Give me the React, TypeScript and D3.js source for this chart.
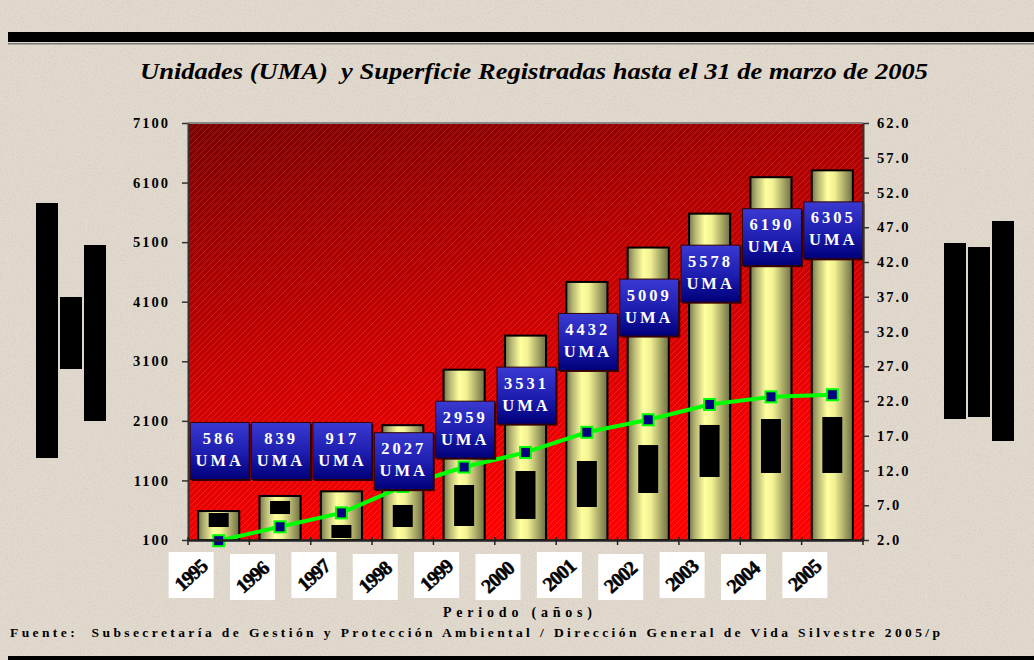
import React, { useEffect, useRef } from 'react';
import * as d3 from 'd3';

const years = ['1995', '1996', '1997', '1998', '1999', '2000', '2001', '2002', '2003', '2004', '2005'];
// registered UMA units (bars, left axis)
const umaCount = [586, 839, 917, 2027, 2959, 3531, 4432, 5009, 5578, 6190, 6305];
// registered surface (line, right axis)
const surface = [1.9, 3.9, 5.9, 9.7, 12.5, 14.6, 17.5, 19.3, 21.5, 22.6, 22.9];
// black blocks inside each bar (left axis units)
const blockHigh = [553, 755, 352, 688, 1023, 1258, 1426, 1694, 2031, 2131, 2165];
const blockLow = [318, 536, 134, 318, 335, 453, 654, 889, 1158, 1225, 1225];
const leftTicks = [100, 1100, 2100, 3100, 4100, 5100, 6100, 7100];
const rightTicks = [2, 7, 12, 17, 22, 27, 32, 37, 42, 47, 52, 57, 62];

const title = 'Unidades (UMA)  y Superficie Registradas hasta el 31 de marzo de 2005';
const xTitle = 'Periodo (años)';
const source = 'Fuente:  Subsecretaría de Gestión y Protección Ambiental / Dirección General de Vida Silvestre 2005/p';

const serif = "'Liberation Serif', 'Times New Roman', serif";

const UmaChart: React.FC = () => {
  const chartRef = useRef<SVGSVGElement>(null);

  useEffect(() => {
    const svg = d3.select(chartRef.current);
    svg.selectAll('*').remove();

    const width = 1034;
    const height = 660;
    const plot = { left: 188, right: 863, top: 123, bottom: 540 };

    const rows = years.map((year, i) => ({
      year, uma: umaCount[i], sup: surface[i], hi: blockHigh[i], lo: blockLow[i],
    }));

    const x = d3.scaleBand().domain(years).range([plot.left, plot.right]);
    const yL = d3.scaleLinear().domain([100, 7100]).range([plot.bottom, plot.top]);
    const yR = d3.scaleLinear().domain([2, 62]).range([plot.bottom, plot.top]);
    const cx = (d: { year: string }) => (x(d.year) ?? 0) + x.bandwidth() / 2;
    const barW = x.bandwidth() * 0.67;

    // label sits on a common row unless that would hide the bar top, then it drops just under it
    const labelY = (d: { uma: number }) => {
      const top = yL(d.uma);
      const cy = Math.min(451, top + 60);
      return top > cy - 28.5 && top < cy + 28.5 ? top + 36 : cy;
    };

    const defs = svg.append('defs');

    const noise = defs.append('filter').attr('id', 'paper');
    noise.append('feTurbulence').attr('type', 'fractalNoise')
      .attr('baseFrequency', 0.6).attr('numOctaves', 2).attr('seed', 3);
    noise.append('feColorMatrix').attr('type', 'matrix')
      .attr('values', '0 0 0 0 0.6  0 0 0 0 0.55  0 0 0 0 0.5  0 0 0 -2.4 1.3');

    const redGrad = defs.append('linearGradient').attr('id', 'redBg')
      .attr('x1', 0).attr('y1', 0).attr('x2', 0.35).attr('y2', 1);
    redGrad.append('stop').attr('offset', 0).attr('stop-color', '#7a0000');
    redGrad.append('stop').attr('offset', 0.55).attr('stop-color', '#c80000');
    redGrad.append('stop').attr('offset', 1).attr('stop-color', '#ff0000');

    const hatch = defs.append('pattern').attr('id', 'hatch')
      .attr('patternUnits', 'userSpaceOnUse').attr('width', 6).attr('height', 6);
    hatch.append('path').attr('d', 'M-1,1 l2,-2 M0,6 l6,-6 M5,7 l2,-2')
      .attr('stroke', '#ffb0b0').attr('stroke-opacity', 0.28).attr('stroke-width', 0.7);

    const barGrad = defs.append('linearGradient').attr('id', 'barGrad')
      .attr('x1', 0).attr('y1', 0).attr('x2', 1).attr('y2', 0);
    [[0, '#77774a'], [0.15, '#b5b574'], [0.38, '#ffff9e'], [0.55, '#f2f294'], [0.8, '#a8a866'], [1, '#6e6e44']]
      .forEach(([o, c]) => barGrad.append('stop').attr('offset', o).attr('stop-color', c));

    const boxGrad = defs.append('linearGradient').attr('id', 'boxGrad')
      .attr('x1', 0).attr('y1', 0).attr('x2', 0).attr('y2', 1);
    boxGrad.append('stop').attr('offset', 0).attr('stop-color', '#3a3ad2');
    boxGrad.append('stop').attr('offset', 0.55).attr('stop-color', '#1c1cae');
    boxGrad.append('stop').attr('offset', 1).attr('stop-color', '#00007a');

    // page
    svg.append('rect').attr('width', width).attr('height', height).attr('fill', '#e1d9cd');
    svg.append('rect').attr('width', width).attr('height', height).attr('filter', 'url(#paper)').attr('opacity', 0.5);

    svg.append('rect').attr('x', 8).attr('y', 32).attr('width', width - 8).attr('height', 10).attr('fill', '#000');
    svg.append('rect').attr('x', 8).attr('y', 43).attr('width', width - 8).attr('height', 1.5).attr('fill', '#777');
    svg.append('rect').attr('x', 8).attr('y', 656).attr('width', width - 8).attr('height', 4).attr('fill', '#000');

    // side blocks
    const sideBlocks = [
      [36, 203, 22, 255], [60, 297, 22, 72], [84, 245, 22, 176],
      [944, 243, 22, 176], [968, 247, 22, 170], [992, 221, 22, 220],
    ];
    svg.append('g').selectAll('rect').data(sideBlocks).enter().append('rect')
      .attr('x', d => d[0]).attr('y', d => d[1]).attr('width', d => d[2]).attr('height', d => d[3])
      .attr('fill', '#000');

    // title
    svg.append('text').attr('x', 140).attr('y', 79).attr('textLength', 788).attr('lengthAdjust', 'spacingAndGlyphs')
      .style('white-space', 'pre')
      .attr('font-family', serif).attr('font-style', 'italic').attr('font-weight', 'bold')
      .attr('font-size', 24).attr('fill', '#000').text(title);

    // plot background
    svg.append('rect').attr('x', plot.left).attr('y', plot.top)
      .attr('width', plot.right - plot.left).attr('height', plot.bottom - plot.top).attr('fill', 'url(#redBg)');
    svg.append('rect').attr('x', plot.left).attr('y', plot.top)
      .attr('width', plot.right - plot.left).attr('height', plot.bottom - plot.top).attr('fill', 'url(#hatch)');
    svg.append('line').attr('x1', plot.left).attr('x2', plot.right).attr('y1', plot.top).attr('y2', plot.top)
      .attr('stroke', '#888').attr('stroke-width', 2);

    // bars
    svg.append('g').selectAll('rect').data(rows).enter().append('rect')
      .attr('x', d => cx(d) - barW / 2).attr('y', d => yL(d.uma))
      .attr('width', barW).attr('height', d => plot.bottom - yL(d.uma))
      .attr('fill', 'url(#barGrad)').attr('stroke', '#000').attr('stroke-width', 2);

    svg.append('g').selectAll('rect').data(rows).enter().append('rect')
      .attr('x', d => cx(d) - 10).attr('y', d => yL(d.hi))
      .attr('width', 20).attr('height', d => yL(d.lo) - yL(d.hi)).attr('fill', '#000');

    // surface line
    const line = d3.line<typeof rows[number]>().x(d => cx(d)).y(d => yR(d.sup));
    svg.append('path').datum(rows).attr('d', line).attr('fill', 'none')
      .attr('stroke', '#00ff00').attr('stroke-width', 4);
    svg.append('g').selectAll('rect').data(rows).enter().append('rect')
      .attr('x', d => cx(d) - 5.5).attr('y', d => yR(d.sup) - 5.5)
      .attr('width', 11).attr('height', 11)
      .attr('fill', '#000080').attr('stroke', '#00ff00').attr('stroke-width', 2);

    // UMA label boxes
    const boxes = svg.append('g').selectAll('g').data(rows).enter().append('g')
      .attr('transform', d => `translate(${cx(d) + 1},${labelY(d)})`);
    boxes.append('rect').attr('x', -28).attr('y', -27).attr('width', 59).attr('height', 57)
      .attr('fill', '#3a0000');
    boxes.append('rect').attr('x', -29.5).attr('y', -28.5).attr('width', 59).attr('height', 57)
      .attr('fill', 'url(#boxGrad)').attr('stroke', '#300').attr('stroke-width', 1);
    boxes.append('text').attr('y', -7).attr('text-anchor', 'middle')
      .attr('font-family', serif).attr('font-weight', 'bold').attr('font-size', 16.5)
      .attr('letter-spacing', 3).attr('fill', '#fff').text(d => String(d.uma));
    boxes.append('text').attr('y', 15).attr('text-anchor', 'middle')
      .attr('font-family', serif).attr('font-weight', 'bold').attr('font-size', 16.5)
      .attr('letter-spacing', 3).attr('fill', '#fff').text('UMA');

    // axes
    const axisFont = (g: d3.Selection<SVGGElement, unknown, null, undefined>) => {
      g.select('.domain').attr('stroke', '#333').attr('stroke-width', 2);
      g.selectAll('.tick line').attr('stroke', '#333').attr('stroke-width', 1.5);
      g.selectAll('.tick text').attr('font-family', serif).attr('font-weight', 'bold')
        .attr('font-size', 14.5).attr('letter-spacing', 2).attr('fill', '#000');
    };

    svg.append('g').attr('transform', `translate(${plot.left},0)`)
      .call(d3.axisLeft(yL).tickValues(leftTicks).tickSize(6).tickSizeOuter(0).tickPadding(12)
        .tickFormat(d3.format('d')))
      .call(axisFont);

    svg.append('g').attr('transform', `translate(${plot.right},0)`)
      .call(d3.axisRight(yR).tickValues(rightTicks).tickSize(6).tickSizeOuter(0).tickPadding(8)
        .tickFormat(d3.format('.1f')))
      .call(axisFont);

    const xAxis = svg.append('g').attr('transform', `translate(0,${plot.bottom})`)
      .call(d3.axisBottom(x).tickValues([]).tickSizeOuter(0));
    xAxis.select('.domain').attr('stroke', '#222').attr('stroke-width', 2.5);
    xAxis.selectAll('line.sep').data(d3.range(years.length + 1)).enter().append('line')
      .attr('class', 'sep')
      .attr('x1', i => plot.left + i * x.step()).attr('x2', i => plot.left + i * x.step())
      .attr('y1', -3).attr('y2', 5).attr('stroke', '#222').attr('stroke-width', 1.5);

    // year tags
    const tags = svg.append('g').selectAll('g').data(rows).enter().append('g')
      .attr('transform', (d, i) => `translate(${cx(d) - 28},${575 + (i % 2) * 2})`);
    tags.append('rect').attr('x', -22).attr('y', -23).attr('width', 45).attr('height', 46).attr('fill', '#fff');
    tags.append('text').attr('transform', 'rotate(-42)').attr('text-anchor', 'middle')
      .attr('dominant-baseline', 'central')
      .attr('font-family', serif).attr('font-weight', 'bold').attr('font-size', 20)
      .attr('letter-spacing', -1).attr('fill', '#000')
      .attr('stroke', '#000').attr('stroke-width', 0.5).text(d => d.year);

    svg.append('text').attr('x', 443).attr('y', 617).attr('textLength', 149).attr('lengthAdjust', 'spacing')
      .attr('font-family', serif).attr('font-weight', 'bold').attr('font-size', 14).attr('fill', '#000')
      .text(xTitle);

    svg.append('text').attr('x', 10).attr('y', 637).attr('textLength', 930).attr('lengthAdjust', 'spacing')
      .style('white-space', 'pre')
      .attr('font-family', serif).attr('font-weight', 'bold').attr('font-size', 13.5).attr('fill', '#000')
      .text(source);
  }, []);

  return (
    <svg ref={chartRef} width="1034" height="660" style={{ position: 'absolute', left: 0, top: 0 }}></svg>
  );
};

export default function App() {
  return <UmaChart />;
}
